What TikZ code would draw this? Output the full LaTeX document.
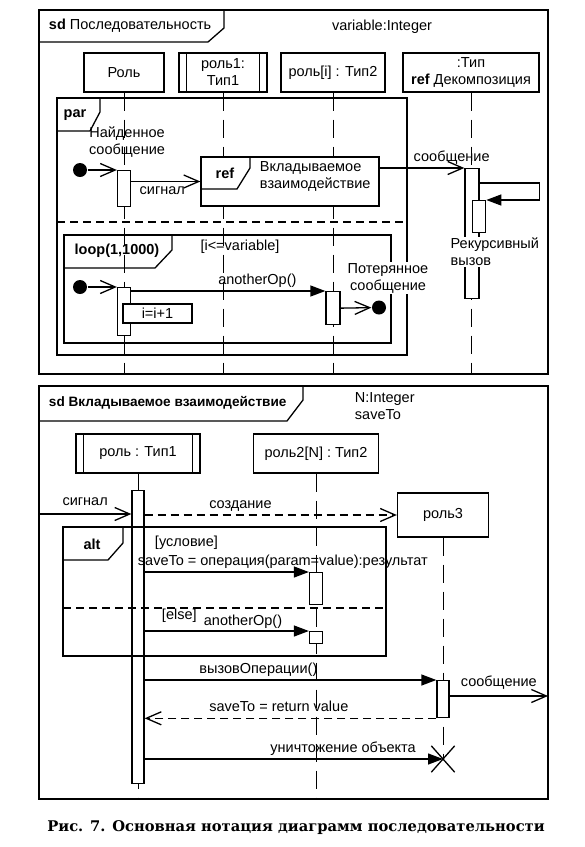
\documentclass[tikz,border=0pt]{standalone}
\usepackage{fontspec}
\setmainfont{Liberation Sans}
\newfontfamily\captionfont{DejaVu Serif}
\usetikzlibrary{arrows.meta,shapes.misc}

\begin{document}
\begin{tikzpicture}[x=1pt,y=-1pt,line width=1.3pt,
        font=\fontsize{14.5}{17}\selectfont,
        lifebox/.style={draw,fill=white,minimum height=39,align=center,inner sep=1},
        lifeline/.style={line width=1pt,dash pattern=on 18pt off 9pt},
        actbox/.style={draw,fill=white,minimum width=13,inner sep=0},
        sigarrow/.style={-{Straight Barb[length=15pt,width=13pt]}},
        callarrow/.style={-{Triangle[length=15pt,width=11pt]}},
        dashline/.style={dash pattern=on 8pt off 5pt},
        endpoint/.style={circle,fill,inner sep=0,minimum size=14}]
        \useasboundingbox (0,0) rectangle (585,847);

        \draw (39,10) rectangle (548,374);
        \draw (39,42) -- (208,42) -- (224,28) -- (224,10);
        \node[anchor=west] (t1) at (45,26) {\textbf{sd} Последовательность};
        \node (v1) at (382,27) {variable:Integer};

        \node[lifebox,minimum width=80] (r0) at (124,72.5) {Роль};
        \node[lifebox,minimum width=88] (r1) at (223,72.5) {роль1:\\Тип1};
        \node[lifebox,minimum width=104] (r2) at (333,72.5) {роль[i] : Тип2};
        \node[lifebox,minimum width=136] (r3) at (471,72.5) {:Тип\\\textbf{ref} Декомпозиция};
        \draw ([xshift=8]r1.north west) -- ([xshift=8]r1.south west);
        \draw ([xshift=-8]r1.north east) -- ([xshift=-8]r1.south east);
        \coordinate (b1) at (0,374);
        \foreach \r in {r0,r1,r2,r3}
            \draw[lifeline] (\r.south) -- (\r |- b1);

        \draw (57,98) rectangle (407,355);
        \draw (57,131) -- (90,131) -- (100,112) -- (100,98);
        \node (par) at (75,115) {\textbf{par}};
        \draw[dashline] (57,222) -- (407,222);

        \node[align=center] (fm1) at (127,142) {Найденное\\сообщение};
        \node[endpoint] (f1) at (80,170) {};
        \node[actbox,minimum height=36,anchor=north] (a1) at (124,170) {};
        \draw[sigarrow] (f1) -- (a1.north west);
        \node[draw,fill=white,minimum width=178,minimum height=49] (ref1) at (290,181.5) {};
        \draw (201,189) -- (237,189) -- (250,168) -- (250,157);
        \node (reft) at (225,173) {\textbf{ref}};
        \node[anchor=west,align=left] (refn) at (256,176) {Вкладываемое\\взаимодействие};
        \draw[sigarrow] (a1.east |- ref1.west) -- node[pos=0.45,below=1pt] {сигнал} (ref1.west);

        \node[actbox,minimum width=14,minimum height=130,anchor=north] (a3) at (472,168) {};
        \draw[sigarrow] (ref1.east |- a3.north) -- node[pos=0.85,above] {сообщение} (a3.north west);
        \node[actbox,minimum height=32,anchor=north west] (a4) at (472,200) {};
        \draw[callarrow] ([yshift=-15]a3.north east) -- ++(60,0) |- (a4.north east);
        \node[anchor=north west,align=left,fill=white,inner sep=1] (rec) at (449,236) {Рекурсивный\\вызов};

        \draw (64,235) rectangle (391,343);
        \draw (64,268) -- (155,268) -- (172,250) -- (172,235);
        \node (loop) at (117,251) {\textbf{loop(1,1000)}};
        \node (cond1) at (240,247) {[i<=variable]};
        \node[endpoint] (f2) at (80,287) {};
        \node[actbox,minimum height=48,anchor=north] (a2) at (124,287) {};
        \draw[sigarrow] (f2) -- (a2.north west);
        \node[actbox,minimum width=14,minimum height=33,anchor=north] (a5) at (333,291) {};
        \draw[callarrow] (a2.east |- a5.north) -- node[pos=0.65,above] {anotherOp()} (a5.north west);
        \node[draw,fill=white,minimum width=69,minimum height=19,inner sep=0] (inc) at (157.5,313.5) {i=i+1};
        \node[endpoint] (l1) at (379,307.5) {};
        \draw[sigarrow] (a5.east) -- (l1);
        \node[align=center,fill=white,inner sep=1] (lost) at (388,278) {Потерянное\\сообщение};

        \draw (39,386) rectangle (548,799);
        \draw (39,421) -- (287,421) -- (303,400) -- (303,386);
        \node[anchor=west] (t2) at (45,403) {\fontsize{13.6}{17}\selectfont\textbf{sd Вкладываемое взаимодействие}};
        \node[anchor=north west,align=left] (v2) at (351,389) {N:Integer\\saveTo};

        \node[lifebox,minimum width=124] (s1) at (138,453.5) {роль : Тип1};
        \draw ([xshift=8]s1.north west) -- ([xshift=8]s1.south west);
        \draw ([xshift=-8]s1.north east) -- ([xshift=-8]s1.south east);
        \node[lifebox,minimum width=125] (s2) at (316,453.5) {роль2[N] : Тип2};
        \node[lifebox,minimum width=91,minimum height=44] (s3) at (443,515) {роль3};
        \node[cross out,draw,minimum width=22,minimum height=25,inner sep=0] (x1) at (443,759) {};
        \coordinate (b2) at (0,799);
        \draw[lifeline] (s1.south) -- (s1 |- b2);
        \draw[lifeline] (s2.south) -- (s2 |- b2);
        \draw[lifeline] (s3.south) -- (x1.center);

        \node[actbox,minimum width=12,minimum height=293,anchor=north] (a6) at (138,490) {};
        \coordinate (in1) at (39,514);
        \draw[sigarrow] (in1) -- node[above=4pt] {сигнал} (a6.west |- in1);
        \draw[sigarrow,dashline] (a6.east |- s3.west) -- node[pos=0.38,above] {создание} (s3.west);

        \draw (63,527) rectangle (386,656);
        \draw (63,560) -- (108,560) -- (123,543) -- (123,527);
        \node (alt) at (92,544) {\textbf{alt}};
        \node[anchor=west] (c2) at (151,543) {[условие]};
        \node[anchor=west] (op1) at (134,562) {saveTo = операция(param=value):результат};
        \node[actbox,minimum height=32,anchor=north] (a7) at (316,572) {};
        \draw[callarrow] (a6.east |- a7.north) -- (a7.north west);
        \draw[dashline] (63,608) -- (386,608);
        \node[anchor=west] (c3) at (158,616) {[else]};
        \node (op2) at (243,622) {anotherOp()};
        \node[actbox,minimum height=12,anchor=north] (a8) at (316,631) {};
        \draw[callarrow] (a6.east |- a8.north) -- (a8.north west);

        \node[actbox,minimum width=12,minimum height=37,anchor=north] (a9) at (443,680) {};
        \draw[callarrow] (a6.east |- a9.north) -- node[pos=0.39,above] {вызовОперации()} (a9.north west);
        \coordinate (out1) at (548,696);
        \draw[sigarrow] (a9.east |- out1) -- node[above=3pt] {сообщение} (out1);
        \draw[sigarrow,dashline] (a9.south west) -- node[pos=0.54,above=3pt] {saveTo = return value} (a6.east |- a9.south);
        \draw[callarrow] (a6.east |- x1) -- node[pos=0.665,above] {уничтожение объекта} (x1.center);

        \node (cap) at (296,828) {\captionfont\bfseries\fontsize{14.7}{18}\selectfont Рис. 7. Основная нотация диаграмм последовательности};
\end{tikzpicture}
\end{document}
